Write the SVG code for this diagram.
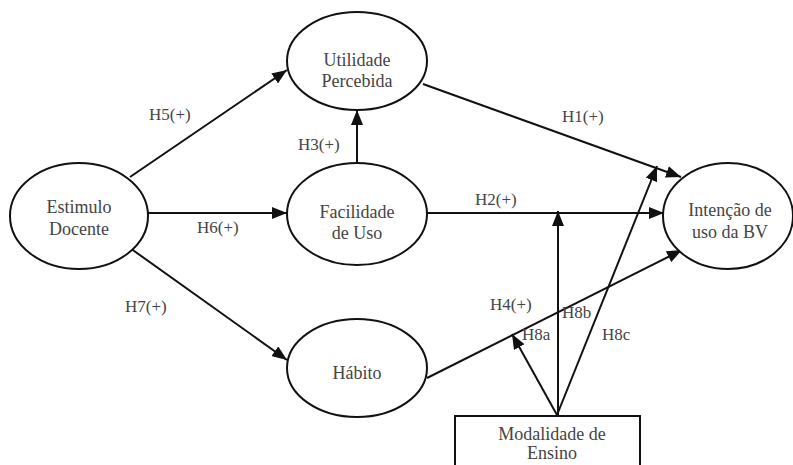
<svg xmlns="http://www.w3.org/2000/svg" width="793" height="465" viewBox="0 0 793 465">
<style>
.node{fill:#fff;stroke:#111;stroke-width:2}
.t{font-size:18px;fill:#444;text-anchor:middle}
.lbl{font-size:17px;fill:#444}
.c{stroke:#111;stroke-width:2;fill:none;marker-end:url(#ah)}
</style>
<defs>
<marker id="ah" viewBox="0 0 10 10" refX="10" refY="5" markerWidth="15" markerHeight="12" markerUnits="userSpaceOnUse" orient="auto" preserveAspectRatio="none">
<path d="M0,0 L10,5 L0,10 z" fill="#111"/>
</marker>
</defs>
<rect width="793" height="465" fill="#fff"/>
<g id="connectors">
<line class="c" x1="130" y1="177" x2="287" y2="70"/>
<line class="c" x1="148" y1="213" x2="287" y2="213"/>
<line class="c" x1="130" y1="248" x2="287" y2="360"/>
<line class="c" x1="357" y1="163" x2="357" y2="110"/>
<line class="c" x1="423" y1="84" x2="681" y2="177"/>
<line class="c" x1="427" y1="213" x2="664" y2="213"/>
<line class="c" x1="427" y1="378" x2="682" y2="250"/>
<line class="c" x1="557" y1="415" x2="512" y2="334"/>
<line class="c" x1="558" y1="415" x2="558" y2="211"/>
<line class="c" x1="557" y1="415" x2="657" y2="166"/>
</g>
<g font-family="Liberation Serif, Times New Roman, serif">
<g id="labels">
<text class="lbl" x="149" y="120">H5(+)</text>
<text class="lbl" x="298" y="150">H3(+)</text>
<text class="lbl" x="562" y="122">H1(+)</text>
<text class="lbl" x="475" y="205">H2(+)</text>
<text class="lbl" x="197" y="233">H6(+)</text>
<text class="lbl" x="125" y="312">H7(+)</text>
<text class="lbl" x="490" y="310">H4(+)</text>
<text class="lbl" x="562" y="318">H8b</text>
<text class="lbl" x="522" y="340">H8a</text>
<text class="lbl" x="602" y="340">H8c</text>
</g>
<g id="estimulo">
<ellipse class="node" cx="79" cy="216" rx="69" ry="53"/>
<text class="t" x="79" y="213">Estimulo</text>
<text class="t" x="79" y="235">Docente</text>
</g>
<g id="utilidade">
<ellipse class="node" cx="357" cy="61" rx="70" ry="49"/>
<text class="t" x="357" y="66">Utilidade</text>
<text class="t" x="357" y="87">Percebida</text>
</g>
<g id="facilidade">
<ellipse class="node" cx="357" cy="214" rx="70" ry="51"/>
<text class="t" x="357" y="218">Facilidade</text>
<text class="t" x="357" y="239">de Uso</text>
</g>
<g id="intencao">
<ellipse class="node" cx="728" cy="216" rx="65" ry="53"/>
<text class="t" x="730" y="216">Intenção de</text>
<text class="t" x="730" y="238">uso da BV</text>
</g>
<g id="habito">
<ellipse class="node" cx="357" cy="368" rx="70" ry="49"/>
<text class="t" x="357" y="379">Hábito</text>
</g>
<g id="modalidade">
<rect class="node" x="455" y="416" width="185" height="60"/>
<text class="t" x="552" y="440">Modalidade de</text>
<text class="t" x="552" y="459">Ensino</text>
</g>
</g>
</svg>
